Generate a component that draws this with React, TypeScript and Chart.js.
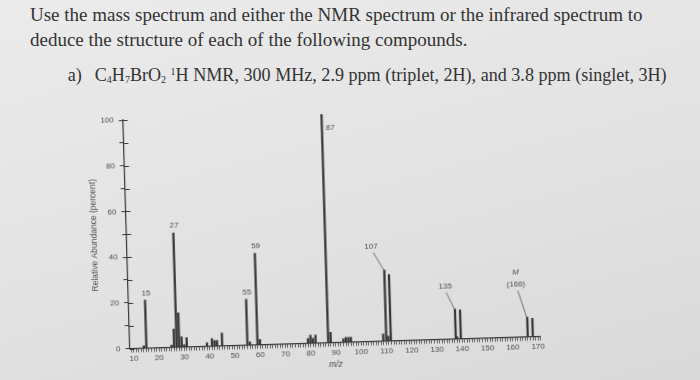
import React, { useEffect, useRef } from 'react';
import { Chart, registerables } from 'chart.js';

Chart.register(...registerables);

// ---- data ----
const PEAK_MZ = [14, 15, 25, 26, 27, 28, 29, 30, 31, 39, 41, 42, 43, 45, 55, 56, 59, 60, 79, 80, 81, 82, 87, 88, 93, 94, 95, 96, 108.8, 110, 110.8, 111.8, 138, 137.5, 139.5, 166, 168];
const PEAK_ABUNDANCE = [1, 21, 1, 8, 50, 15, 4.5, 1, 4, 1.5, 3.2, 2.4, 2.4, 5.5, 20, 1.3, 40, 2.3, 2, 3.5, 2, 3.5, 100, 4.5, 1.5, 2, 2, 2, 3, 31, 2, 29, 1, 13, 12.5, 8.5, 8];

const X_MIN = 8.5;
const X_MAX = 171;
const X_TICK_LABELS = [10, 20, 30, 40, 50, 60, 70, 80, 90, 100, 110, 120, 130, 140, 150, 160, 170];
const Y_TICK_LABELS = [0, 20, 40, 60, 80, 100];

const LABELED_MZ = [15, 27, 55, 59, 87, 110, 137.5, 166];
const LABELED_TEXT = ['15', '27', '55', '59', '87', '107', '135', '(166)'];
const MOLECULAR_ION_TEXT = 'M';

// ---- styles ----
const INK = '#363636';
const TEXT_GREY = '#4d4d4d';
const SANS = '"Liberation Sans", Arial, sans-serif';
const SERIF = '"Liberation Serif", "Times New Roman", serif';

type LabelStyle =
  | { kind: 'above' }
  | { kind: 'right'; dx: number; dy: number }
  | { kind: 'leader'; tx: number; ty: number; lx: number; ly: number; extraDy?: number };

const LABEL_STYLES: LabelStyle[] = [
  { kind: 'above' },
  { kind: 'above' },
  { kind: 'above' },
  { kind: 'above' },
  { kind: 'right', dx: 4, dy: 14 },
  { kind: 'leader', tx: -12.5, ty: -24, lx: -10.5, ly: -18 },
  { kind: 'leader', tx: -9, ty: -23, lx: -8.3, ly: -17 },
  { kind: 'leader', tx: -10.3, ty: -33, lx: -8.7, ly: -27, extraDy: -12 },
];

const annotatePlugin = {
  id: 'annotate',
  afterDraw(chart: any) {
    const { ctx, chartArea } = chart;
    const x = chart.scales.x;
    const y = chart.scales.y;
    ctx.save();
    // inner half of y-axis tick marks (ticks cross the axis)
    ctx.strokeStyle = INK;
    ctx.lineWidth = 1;
    for (let v = 0; v <= 100; v += 10) {
      const py = Math.round(y.getPixelForValue(v)) + 0.5;
      ctx.beginPath();
      ctx.moveTo(chartArea.left, py);
      ctx.lineTo(chartArea.left + 4.5, py);
      ctx.stroke();
    }
    // peak labels
    ctx.fillStyle = TEXT_GREY;
    ctx.font = `8px ${SANS}`;
    LABELED_MZ.forEach((mz, i) => {
      const idx = PEAK_MZ.indexOf(mz);
      const ab = idx >= 0 ? PEAK_ABUNDANCE[idx] : 0;
      const bx = x.getPixelForValue(mz);
      const by = y.getPixelForValue(ab);
      const st = LABEL_STYLES[i];
      const text = LABELED_TEXT[i];
      if (st.kind === 'above') {
        ctx.textAlign = 'center';
        ctx.textBaseline = 'bottom';
        ctx.fillText(text, bx + 1, by - 3);
      } else if (st.kind === 'right') {
        ctx.textAlign = 'left';
        ctx.textBaseline = 'middle';
        ctx.fillText(text, bx + st.dx, by + st.dy);
      } else {
        ctx.textAlign = 'center';
        ctx.textBaseline = 'middle';
        ctx.fillText(text, bx + st.tx, by + st.ty);
        if (st.extraDy !== undefined) {
          ctx.font = `italic 8px ${SANS}`;
          ctx.fillText(MOLECULAR_ION_TEXT, bx + st.tx, by + st.ty + st.extraDy);
          ctx.font = `8px ${SANS}`;
        }
        ctx.strokeStyle = '#555';
        ctx.lineWidth = 0.8;
        ctx.beginPath();
        ctx.moveTo(bx + st.lx, by + st.ly);
        ctx.lineTo(bx - 0.5, by);
        ctx.stroke();
      }
    });
    ctx.restore();
  },
};

function MassSpectrum() {
  const ref = useRef<HTMLCanvasElement | null>(null);
  useEffect(() => {
    if (!ref.current) return;
    const chart = new Chart(ref.current, {
      type: 'bar',
      data: {
        datasets: [
          {
            data: PEAK_MZ.map((m, i) => ({ x: m, y: PEAK_ABUNDANCE[i] })),
            backgroundColor: INK,
            borderWidth: 0,
            barThickness: 1.6,
          } as any,
        ],
      },
      options: {
        animation: false,
        responsive: false,
        maintainAspectRatio: false,
        layout: { padding: { left: 50, top: 20, right: 39.4, bottom: 1.5 }, autoPadding: false } as any,
        plugins: { legend: { display: false }, tooltip: { enabled: false } },
        scales: {
          x: {
            type: 'linear',
            min: X_MIN,
            max: X_MAX,
            offset: false,
            afterBuildTicks: (s: any) => {
              const t = [];
              for (let v = Math.ceil(X_MIN); v <= Math.floor(X_MAX); v++) t.push({ value: v });
              s.ticks = t;
            },
            afterFit: (s: any) => {
              s.height = 30;
            },
            ticks: {
              autoSkip: false,
              maxRotation: 0,
              minRotation: 0,
              padding: 1,
              color: TEXT_GREY,
              font: { size: 8, family: SANS },
              callback: (v: any) => (X_TICK_LABELS.includes(Number(v)) ? String(v) : ''),
            },
            grid: {
              offset: false,
              drawOnChartArea: false,
              drawTicks: true,
              tickLength: 4,
              color: '#444',
              lineWidth: 0.8,
            },
            border: { display: true, color: INK, width: 1.2 },
            title: {
              display: true,
              text: 'm/z',
              color: TEXT_GREY,
              font: { size: 8.5, style: 'italic', family: SANS },
              padding: { top: 0, bottom: 3 },
            },
          } as any,
          y: {
            type: 'linear',
            min: 0,
            max: 100,
            afterFit: (s: any) => {
              s.width = 40;
            },
            ticks: {
              stepSize: 10,
              padding: 5,
              color: TEXT_GREY,
              font: { size: 8, family: SANS },
              callback: (v: any) => (Y_TICK_LABELS.includes(Number(v)) ? String(v) : ''),
            },
            grid: {
              drawOnChartArea: false,
              drawTicks: true,
              tickLength: 4.5,
              color: INK,
              lineWidth: 1,
            },
            border: { display: true, color: INK, width: 1.2 },
            title: {
              display: true,
              text: 'Relative Abundance (percent)',
              color: '#555',
              font: { size: 8.5, family: SANS },
              padding: { top: 3, bottom: 0 },
            },
          } as any,
        },
      },
      plugins: [annotatePlugin],
    });
    return () => chart.destroy();
  }, []);
  return (
    <canvas
      ref={ref}
      width={540}
      height={280}
      style={{
        position: 'absolute',
        left: 40,
        top: 100,
        width: 540,
        height: 280,
        transformOrigin: '90px 248.5px',
        transform: 'rotate(-1.7deg)',
      }}
    />
  );
}

const small: React.CSSProperties = { fontSize: 10, position: 'relative' };

export default function App() {
  return (
    <div
      style={{
        position: 'fixed',
        left: 0,
        top: 0,
        width: 700,
        height: 380,
        overflow: 'hidden',
        background: 'linear-gradient(165deg, #ebebeb 0%, #e2e2e2 55%, #d9d9d9 100%)',
        color: '#333',
        fontFamily: SERIF,
      }}
    >
      <div
        style={{
          position: 'absolute',
          left: 30,
          top: 1.8,
          fontSize: 19,
          lineHeight: '25px',
          whiteSpace: 'nowrap',
        }}
      >
        Use the mass spectrum and either the NMR spectrum or the infrared spectrum to
        <br />
        deduce the structure of each of the following compounds.
      </div>
      <div
        style={{
          position: 'absolute',
          left: 67.7,
          top: 63,
          fontSize: 18.1,
          lineHeight: '25px',
          whiteSpace: 'nowrap',
        }}
      >
        a)<span style={{ display: 'inline-block', width: 13 }} />C<span style={{ ...small, top: 2 }}>4</span>H
        <span style={{ ...small, top: 2 }}>7</span>BrO<span style={{ ...small, top: 2 }}>2</span>{' '}
        <span style={{ ...small, top: -6 }}>1</span>H NMR, 300 MHz, 2.9 ppm (triplet, 2H), and 3.8 ppm (singlet, 3H)
      </div>
      <MassSpectrum />
    </div>
  );
}
